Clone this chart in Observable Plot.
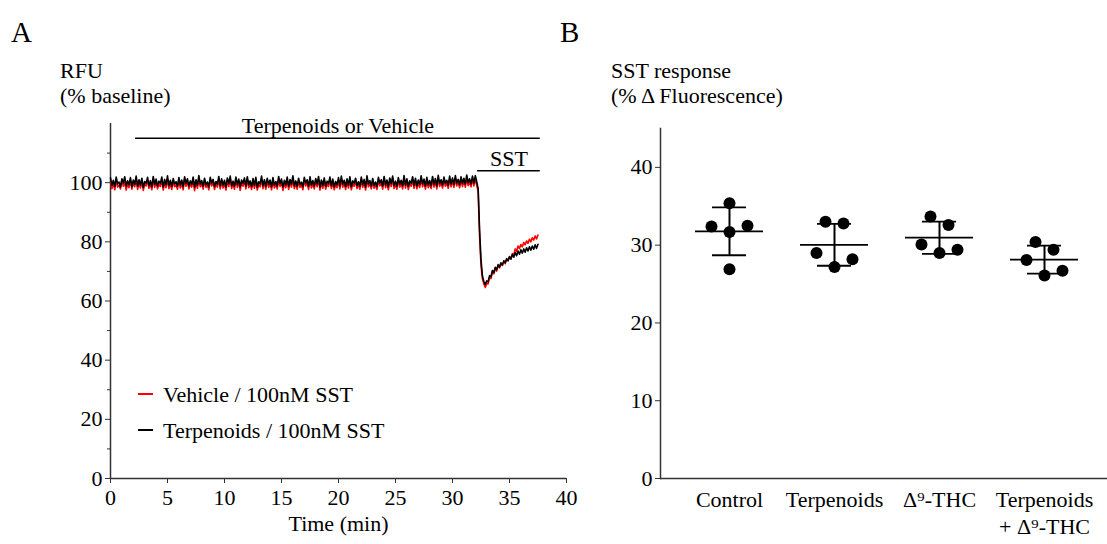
<!DOCTYPE html>
<html><head><meta charset="utf-8">
<script src="https://cdn.jsdelivr.net/npm/d3@7"></script>
<script src="https://cdn.jsdelivr.net/npm/@observablehq/plot@0.6"></script>
<style>
body{margin:0;background:#fff;}
#wrap{position:relative;width:1107px;height:544px;overflow:hidden;background:#fff;font-family:"Liberation Serif","Times New Roman",serif;color:#000;}
#wrap svg, #wrap svg text{font-family:"Liberation Serif","Times New Roman",serif !important;}
.abs{position:absolute;white-space:nowrap;line-height:1;}
.plot{position:absolute;top:0;}
</style></head><body><div id="wrap"></div>
<script>
// ---------- Panel A data ----------
const sampleStep = 0.125; // minutes between samples, starting at t = 0
const vehicleTrace = [
 100.5, 98.0, 99.8, 97.6, 100.9, 98.5, 99.2, 97.9, 101.0, 98.8, 100.3, 97.5, 99.6, 98.3, 100.7, 97.8,
 99.9, 98.6, 101.1, 97.7, 100.0, 98.2, 100.6, 97.4, 99.5, 98.9, 100.8, 98.1, 99.7, 97.6, 101.2, 98.4,
 100.2, 97.9, 99.4, 98.7, 100.9, 97.5, 100.1, 98.3, 101.0, 98.0, 99.8, 97.7, 100.5, 98.6, 99.3, 97.8,
 100.7, 98.2, 99.9, 97.6, 101.1, 98.8, 100.4, 97.9, 99.6, 98.5, 100.9, 97.3, 100.0, 98.1, 101.3, 98.6,
 99.7, 97.8, 100.6, 98.4, 99.2, 97.6, 100.8, 98.9, 100.2, 97.7, 99.5, 98.5, 101.0, 97.9, 100.3, 98.2,
 99.8, 97.5, 100.7, 98.7, 101.2, 98.0, 99.6, 97.8, 100.9, 98.4, 100.1, 97.4, 99.9, 98.8, 100.6, 97.9,
 101.0, 98.3, 99.6, 97.7, 100.4, 98.1, 100.8, 97.5, 99.4, 98.6, 101.1, 98.0, 100.0, 97.8, 100.5, 98.4,
 99.9, 97.6, 100.7, 98.2, 99.5, 97.9, 101.0, 98.7, 100.2, 97.4, 99.8, 98.3, 100.9, 97.7, 100.1, 98.5,
 101.2, 98.0, 99.6, 97.8, 100.5, 98.4, 99.3, 97.6, 100.8, 98.9, 100.0, 97.7, 101.0, 98.2, 99.7, 97.9,
 100.4, 98.6, 101.1, 97.5, 99.9, 98.1, 100.6, 97.8, 99.5, 98.7, 100.9, 98.0, 100.2, 97.6, 99.4, 98.3,
 100.7, 97.9, 101.2, 98.5, 99.8, 97.7, 100.3, 98.2, 101.0, 97.6, 99.6, 98.8, 100.5, 98.0, 99.3, 97.8,
 100.9, 98.4, 100.1, 97.5, 101.3, 98.6, 99.7, 97.9, 100.4, 98.1, 99.2, 97.7, 100.8, 98.9, 100.0, 97.8,
 101.1, 98.3, 99.9, 97.6, 100.6, 98.7, 101.2, 98.0, 99.5, 97.8, 100.7, 98.5, 99.8, 97.9, 101.3, 98.2,
 100.3, 97.7, 99.6, 98.8, 101.0, 98.1, 100.5, 97.9, 99.9, 98.4, 101.3, 98.6, 100.2, 97.8, 100.8, 98.3,
 99.7, 98.0, 101.1, 98.5, 100.4, 97.9, 101.4, 98.7, 100.0, 98.2, 100.9, 98.8, 99.8, 98.1, 101.2, 98.6,
 100.6, 98.4, 101.3, 98.9, 100.1, 98.3, 101.0, 98.7, 100.5, 98.5, 101.5, 99.0, 100.3, 98.6, 101.2, 98.9,
 101.1, 99.2,
 97.0, 82.0, 72.0, 67.5, 65.8, 64.6, 65.9, 65.8, 67.9, 67.6, 69.8, 69.2, 71.0, 70.1, 71.9, 71.2,
 72.6, 72.0, 73.3, 72.6, 74.1, 73.6, 74.9, 74.2, 76.0, 75.5, 77.6, 76.8, 78.6, 77.7, 79.1, 78.3,
 79.8, 79.0, 80.3, 79.5, 80.9, 80.0, 81.4, 80.6, 82.0, 81.0, 82.3
];
const terpenoidTrace = [
 101.6, 99.1, 100.8, 98.7, 101.9, 99.6, 100.2, 98.5, 101.3, 99.9, 102.0, 98.9, 100.6, 99.3, 101.7, 98.6,
 100.9, 99.5, 102.2, 98.8, 101.0, 99.2, 101.5, 98.4, 100.4, 99.8, 101.8, 99.0, 100.7, 98.6, 102.1, 99.4,
 101.2, 98.9, 100.5, 99.7, 101.9, 98.5, 101.1, 99.3, 102.3, 99.0, 100.8, 98.7, 101.4, 99.6, 100.3, 98.8,
 101.7, 99.2, 100.9, 98.6, 102.0, 99.8, 101.3, 98.9, 100.6, 99.4, 101.9, 98.5, 101.0, 99.1, 102.4, 99.6,
 100.7, 98.8, 101.5, 99.3, 100.2, 98.6, 101.8, 99.9, 101.1, 98.7, 100.4, 99.5, 102.1, 98.9, 101.3, 99.2,
 100.8, 98.5, 101.6, 99.7, 102.2, 99.0, 100.5, 98.8, 101.9, 99.4, 101.2, 98.6, 100.9, 99.8, 101.6, 98.9,
 102.0, 99.3, 100.6, 98.7, 101.4, 99.1, 101.8, 98.5, 100.3, 99.6, 102.2, 99.0, 101.0, 98.8, 101.5, 99.4,
 100.9, 98.6, 101.7, 99.2, 100.4, 98.9, 102.1, 99.7, 101.2, 98.5, 100.8, 99.3, 101.9, 98.7, 101.1, 99.5,
 102.3, 99.0, 100.6, 98.8, 101.5, 99.4, 100.2, 98.6, 101.8, 99.9, 101.0, 98.7, 102.0, 99.2, 100.7, 98.9,
 101.4, 99.6, 102.1, 98.5, 100.9, 99.1, 101.6, 98.8, 100.5, 99.7, 101.9, 99.0, 101.2, 98.6, 100.4, 99.3,
 101.7, 98.9, 102.2, 99.5, 100.8, 98.7, 101.3, 99.2, 102.0, 98.6, 100.6, 99.8, 101.5, 99.0, 100.3, 98.8,
 101.9, 99.4, 101.1, 98.5, 102.3, 99.6, 100.7, 98.9, 101.4, 99.1, 100.2, 98.7, 101.8, 99.9, 101.0, 98.8,
 102.1, 99.3, 100.9, 98.6, 101.6, 99.7, 102.2, 99.0, 100.5, 98.8, 101.7, 99.5, 100.8, 98.9, 102.4, 99.2,
 101.3, 98.7, 100.6, 99.8, 102.0, 99.1, 101.5, 98.9, 100.9, 99.4, 102.3, 99.6, 101.2, 98.8, 101.8, 99.3,
 100.7, 99.0, 102.1, 99.5, 101.4, 98.9, 102.5, 99.7, 101.0, 99.2, 101.9, 99.8, 100.8, 99.1, 102.2, 99.6,
 101.6, 99.4, 102.4, 99.9, 101.1, 99.3, 102.0, 99.7, 101.5, 99.5, 102.6, 100.0, 101.3, 99.6, 102.2, 99.9,
 102.4, 100.3,
 98.0, 84.0, 74.0, 68.5, 66.6, 65.6, 66.8, 66.5, 68.6, 68.2, 70.3, 69.6, 71.4, 70.6, 72.3, 71.5,
 72.9, 72.2, 73.6, 73.0, 74.3, 73.6, 75.0, 74.2, 75.7, 74.8, 76.4, 75.3, 76.9, 75.8, 77.3, 76.2,
 77.6, 76.5, 78.0, 76.9, 78.3, 77.2, 78.6, 77.5, 79.0, 77.8, 79.2
];
const treatmentLabels = ["Terpenoids or Vehicle", "SST"];
const treatmentStart = [2.2, 32.2];
const treatmentEnd = [37.7, 37.7];
const treatmentLevel = [115, 104];
const timeTicks = [0, 5, 10, 15, 20, 25, 30, 35, 40];
const rfuTicks = [0, 20, 40, 60, 80, 100];
const rfuMinorTicks = [10, 30, 50, 70, 90, 110];
const legendLabels = ["Vehicle / 100nM SST", "Terpenoids / 100nM SST"];
const legendColors = ["#ff0000", "#000000"];

// ---------- Panel B data ----------
const groups = ["Control", "Terpenoids", "Δ⁹-THC", "Terpenoids\n+ Δ⁹-THC"];
const controlValues = [35.4, 32.4, 32.5, 31.7, 26.9];
const terpenoidValues = [33.0, 32.8, 29.0, 28.2, 27.2];
const thcValues = [33.7, 32.6, 30.1, 29.4, 29.0];
const comboValues = [30.4, 29.4, 28.1, 26.1, 26.7];
const controlSlots = [0, -2, 2, 0, 0];
const terpenoidSlots = [-1, 1, -2, 2, 0];
const thcSlots = [-1, 1, -2, 2, 0];
const comboSlots = [-1, 1, -2, 0, 2];
const responseTicks = [0, 10, 20, 30, 40];

// ---------- build tables ----------
const traceRows = (arr) => arr.map((v, i) => ({t: i * sampleStep, v}));
const vehicleRows = traceRows(vehicleTrace);
const terpRows = traceRows(terpenoidTrace);
const treatments = treatmentLabels.map((label, i) => ({label, start: treatmentStart[i], end: treatmentEnd[i], level: treatmentLevel[i]}));

const groupValues = [controlValues, terpenoidValues, thcValues, comboValues];
const groupSlots = [controlSlots, terpenoidSlots, thcSlots, comboSlots];
const points = groups.flatMap((g, gi) => groupValues[gi].map((value, j) => ({group: g, value, slot: groupSlots[gi][j]})));
const stats = groups.map((g, gi) => {
  const m = d3.mean(groupValues[gi]), s = d3.deviation(groupValues[gi]);
  return {group: g, mean: m, lo: m - s, hi: m + s};
});

const font = "'Liberation Serif', 'Times New Roman', serif";
const axisColor = "#333";

const plotA = Plot.plot({
  width: 580, height: 544,
  marginLeft: 110, marginRight: 14, marginTop: 123, marginBottom: 66,
  style: {fontSize: "22px", fontFamily: font, background: "transparent", color: "#000", overflow: "visible"},
  x: {domain: [0, 40]},
  y: {domain: [0, 120]},
  marks: [
    Plot.axisX(timeTicks, {tickSize: 5, tickPadding: 6, label: "Time (min)", labelAnchor: "center", labelOffset: 52, labelArrow: "none", stroke: axisColor}),
    Plot.axisY(rfuTicks, {tickSize: 5, tickPadding: 3, label: null, stroke: axisColor}),
    Plot.axisY(rfuMinorTicks, {tickSize: 3, text: null, label: null, stroke: axisColor}),
    Plot.ruleX([0], {stroke: axisColor, strokeWidth: 1.5}),
    Plot.ruleY([0], {stroke: axisColor, strokeWidth: 1.5}),
    Plot.line(vehicleRows, {x: "t", y: "v", stroke: legendColors[0], strokeWidth: 1.6}),
    Plot.line(terpRows, {x: "t", y: "v", stroke: legendColors[1], strokeWidth: 1.6}),
    Plot.ruleY(treatments, {y: "level", x1: "start", x2: "end", stroke: "#000", strokeWidth: 1.5}),
    Plot.text(treatments, {x: d => (d.start + d.end) / 2, y: "level", text: "label", lineAnchor: "bottom", dy: -5, fontSize: 22})
  ]
});

const plotB = Plot.plot({
  width: 567, height: 544,
  marginLeft: 120, marginRight: 0, marginTop: 128, marginBottom: 66,
  style: {fontSize: "22px", fontFamily: font, background: "transparent", color: "#000", overflow: "visible"},
  x: {type: "band", domain: groups, paddingInner: 0.35, paddingOuter: 0, insetLeft: 34, insetRight: 27},
  y: {domain: [0, 45]},
  marks: [
    Plot.axisX({tickSize: 0, tickPadding: 10, label: null, lineHeight: 1.2}),
    Plot.axisY(responseTicks, {tickSize: 5, tickPadding: 3, label: null, stroke: axisColor}),
    Plot.frame({anchor: "left", stroke: axisColor, strokeWidth: 1.5}),
    Plot.ruleY([0], {stroke: axisColor, strokeWidth: 1.5}),
    Plot.tickY(stats, {x: "group", y: "mean", stroke: "#000", strokeWidth: 1.8}),
    Plot.tickY(stats, {x: "group", y: "hi", stroke: "#000", strokeWidth: 1.8, insetLeft: 17, insetRight: 17}),
    Plot.tickY(stats, {x: "group", y: "lo", stroke: "#000", strokeWidth: 1.8, insetLeft: 17, insetRight: 17}),
    Plot.ruleX(stats, {x: "group", y1: "lo", y2: "hi", stroke: "#000", strokeWidth: 2}),
    ...[-2, -1, 0, 1, 2].map(s => Plot.dot(points.filter(d => d.slot === s), {x: "group", y: "value", r: 6, fill: "#000", stroke: "none", dx: s * 9}))
  ]
});

const wrap = document.getElementById("wrap");
plotA.classList.add("plot"); plotA.style.left = "0px";
plotB.classList.add("plot"); plotB.style.left = "540px";
wrap.appendChild(plotA);
wrap.appendChild(plotB);

function addText(txt, left, baseline, size) {
  const d = document.createElement("div");
  d.className = "abs";
  d.textContent = txt;
  d.style.left = left + "px";
  d.style.top = (baseline - 0.8375 * size) + "px";
  d.style.fontSize = size + "px";
  wrap.appendChild(d);
}
addText("A", 11, 42, 29);
addText("RFU", 60, 78, 22);
addText("(% baseline)", 60, 103, 22);
addText("B", 560, 42, 29);
addText("SST response", 611, 78, 22);
addText("(% Δ Fluorescence)", 611, 103, 22);

legendLabels.forEach((lab, i) => {
  const y = 394 + i * 36;
  const ln = document.createElement("div");
  ln.className = "abs";
  ln.style.left = "138px"; ln.style.top = (y - 1) + "px";
  ln.style.width = "15px"; ln.style.height = "2px";
  ln.style.background = legendColors[i];
  wrap.appendChild(ln);
  addText(lab, 163, y + 8, 22);
});
</script>
</body></html>
